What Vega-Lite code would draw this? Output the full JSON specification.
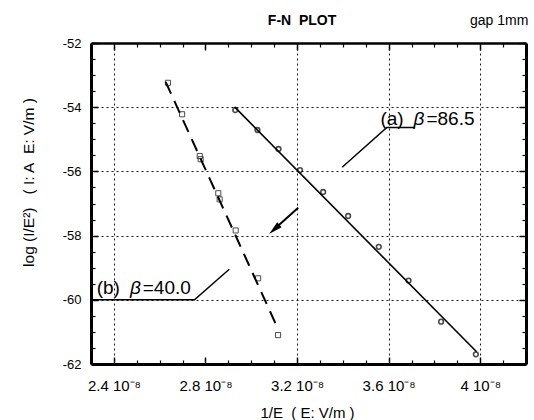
{
  "$schema": "https://vega.github.io/schema/vega-lite/v6.json",
  "width": 435,
  "height": 321,
  "autosize": "none",
  "padding": {"left": 91, "top": 43, "right": 8, "bottom": 56},
  "background": "white",
  "config": {
    "font": "Liberation Sans",
    "view": {"stroke": null},
    "axis": {"labelColor": "black", "titleColor": "black", "tickColor": "black", "domainColor": "black", "labelFont": "Liberation Sans", "titleFont": "Liberation Sans", "titleFontWeight": "normal", "gridColor": "black"}
  },
  "datasets": {
    "lineA": [{"x": 2.927, "y": -53.99}, {"x": 3.984, "y": -61.62}],
    "ptsA": [
      {"x": 2.930, "y": -54.09}, {"x": 3.027, "y": -54.71}, {"x": 3.119, "y": -55.30},
      {"x": 3.213, "y": -55.96}, {"x": 3.314, "y": -56.64}, {"x": 3.423, "y": -57.39},
      {"x": 3.557, "y": -58.35}, {"x": 3.687, "y": -59.40}, {"x": 3.829, "y": -60.68},
      {"x": 3.981, "y": -61.70}
    ],
    "lineB": [{"x": 2.626, "y": -53.21}, {"x": 3.119, "y": -60.94}],
    "ptsB": [
      {"x": 2.636, "y": -53.24}, {"x": 2.698, "y": -54.22}, {"x": 2.775, "y": -55.52},
      {"x": 2.779, "y": -55.62}, {"x": 2.856, "y": -56.68}, {"x": 2.862, "y": -56.87},
      {"x": 2.932, "y": -57.84}, {"x": 3.030, "y": -59.33}, {"x": 3.117, "y": -61.10}
    ],
    "leaders": [
      {"id": "a", "o": 1, "x": 3.713, "y": -54.63}, {"id": "a", "o": 2, "x": 3.592, "y": -54.63}, {"id": "a", "o": 3, "x": 3.397, "y": -55.87},
      {"id": "b", "o": 1, "x": 2.30, "y": -60.0}, {"id": "b", "o": 2, "x": 2.752, "y": -60.0}, {"id": "b", "o": 3, "x": 2.904, "y": -59.05}
    ],
    "arrow": [{"o": 1, "x": 3.205, "y": -57.13}, {"o": 2, "x": 3.11, "y": -57.74}],
    "arrowHead": [{"x": 3.106, "y": -57.77}],
    "tags": [{"t": "(a)", "x": 3.564, "y": -54.54}, {"t": "(b)", "x": 2.325, "y": -59.82}],
    "betas": [{"t": "β", "x": 3.709, "y": -54.54}, {"t": "β", "x": 2.470, "y": -59.82}],
    "vals": [{"t": "=86.5", "x": 3.765, "y": -54.54}, {"t": "=40.0", "x": 2.526, "y": -59.82}],
    "heads": [{"t": "gap 1mm", "x": 4.083, "y": -51.44}],
    "title": [{"t": "F-N\u00a0 PLOT", "x": 3.222, "y": -51.44}]
  },
  "layer": [
    {
      "data": {"name": "lineA"},
      "mark": {"type": "line", "color": "black", "strokeWidth": 1.6},
      "encoding": {
        "x": {"field": "x", "type": "quantitative", "scale": {"domain": [2.3, 4.2], "nice": false, "zero": false},
          "axis": {"orient": "bottom", "values": [2.4, 2.8, 3.2, 3.6, 4.0], "tickSize": -7, "tickWidth": 1.5, "domainWidth": 3, "labelFontSize": 15, "labelPadding": 21,
            "labelExpr": "(datum.value == 4 ? '4' : format(datum.value, '.1f')) + ' 10⁻⁸'",
            "grid": true, "gridDash": [2, 3], "gridWidth": 1, "gridOpacity": {"condition": {"test": "abs(datum.value - 2.8) < 0.01", "value": 0}, "value": 0.9},
            "title": "1/E\u00a0 ( E: V/m )", "titleFontSize": 15, "titleX": 216, "titleY": 41, "titleBaseline": "top", "titleAnchor": null}},
        "y": {"field": "y", "type": "quantitative", "scale": {"domain": [-62, -52], "nice": false, "zero": false},
          "axis": {"orient": "left", "values": [-62, -60, -58, -56, -54, -52], "tickSize": -7, "tickWidth": 1.5, "domainWidth": 3, "labelFontSize": 13, "labelPadding": 17,
            "labelExpr": "'' + datum.value",
            "grid": true, "gridDash": [2, 3], "gridWidth": 1, "gridOpacity": 0.9,
            "title": "log (I/E²)\u00a0\u00a0 ( I: A\u00a0 E: V/m )", "titleFontSize": 15.5, "titleX": -63, "titleY": 139, "titleBaseline": "middle", "titleAlign": "center", "titleAngle": -90}}
      }
    },
    {
      "data": {"name": "ptsA"},
      "mark": {"type": "point", "shape": "circle", "color": "black", "filled": false, "size": 22, "strokeWidth": 1.6},
      "encoding": {
        "x": {"field": "x", "type": "quantitative", "scale": {"domain": [2.3, 4.2], "nice": false, "zero": false},
          "axis": {"orient": "bottom", "values": [2.5, 2.6, 2.7, 2.9, 3.0, 3.1, 3.3, 3.4, 3.5, 3.7, 3.8, 3.9, 4.1], "tickSize": -4, "tickWidth": 1.2, "labels": false, "domain": false, "grid": false, "title": null}},
        "y": {"field": "y", "type": "quantitative", "scale": {"domain": [-62, -52], "nice": false, "zero": false},
          "axis": {"orient": "left", "values": [-61.5, -61, -60.5, -59.5, -59, -58.5, -57.5, -57, -56.5, -55.5, -55, -54.5, -53.5, -53, -52.5], "tickSize": -4, "tickWidth": 1.2, "labels": false, "domain": false, "grid": false, "title": null}}
      }
    },
    {
      "data": {"name": "lineB"},
      "mark": {"type": "line", "color": "black", "strokeWidth": 2, "strokeDash": [13, 8]},
      "encoding": {
        "x": {"field": "x", "type": "quantitative", "scale": {"domain": [2.3, 4.2], "nice": false, "zero": false},
          "axis": {"orient": "top", "values": [2.4, 2.8, 3.2, 3.6, 4.0], "tickSize": -7, "tickWidth": 1.5, "domainWidth": 2.5, "labels": false, "grid": false, "title": null}},
        "y": {"field": "y", "type": "quantitative", "scale": {"domain": [-62, -52], "nice": false, "zero": false},
          "axis": {"orient": "right", "values": [-62, -60, -58, -56, -54, -52], "tickSize": -7, "tickWidth": 1.5, "domainWidth": 3, "labels": false, "grid": false, "title": null}}
      }
    },
    {
      "data": {"name": "ptsB"},
      "mark": {"type": "point", "shape": "square", "color": "black", "filled": false, "size": 26, "strokeWidth": 1},
      "encoding": {
        "x": {"field": "x", "type": "quantitative", "scale": {"domain": [2.3, 4.2], "nice": false, "zero": false},
          "axis": {"orient": "top", "values": [2.5, 2.6, 2.7, 2.9, 3.0, 3.1, 3.3, 3.4, 3.5, 3.7, 3.8, 3.9, 4.1], "tickSize": -4, "tickWidth": 1.2, "labels": false, "domain": false, "grid": false, "title": null}},
        "y": {"field": "y", "type": "quantitative", "scale": {"domain": [-62, -52], "nice": false, "zero": false},
          "axis": {"orient": "right", "values": [-61.5, -61, -60.5, -59.5, -59, -58.5, -57.5, -57, -56.5, -55.5, -55, -54.5, -53.5, -53, -52.5], "tickSize": -4, "tickWidth": 1.2, "labels": false, "domain": false, "grid": false, "title": null}}
      }
    },
    {
      "data": {"name": "leaders"},
      "mark": {"type": "line", "color": "black", "strokeWidth": 1.5},
      "encoding": {
        "x": {"field": "x", "type": "quantitative", "axis": null},
        "y": {"field": "y", "type": "quantitative", "axis": null},
        "detail": {"field": "id"},
        "order": {"field": "o"}
      }
    },
    {
      "data": {"name": "arrow"},
      "mark": {"type": "line", "color": "black", "strokeWidth": 2},
      "encoding": {
        "x": {"field": "x", "type": "quantitative", "axis": null},
        "y": {"field": "y", "type": "quantitative", "axis": null},
        "order": {"field": "o"}
      }
    },
    {
      "data": {"name": "arrowHead"},
      "mark": {"type": "point", "shape": "M0,-1L0.38,0.6L-0.38,0.6Z", "filled": true, "color": "black", "opacity": 1, "size": 300, "angle": 228},
      "encoding": {
        "x": {"field": "x", "type": "quantitative", "axis": null},
        "y": {"field": "y", "type": "quantitative", "axis": null}
      }
    },
    {
      "data": {"name": "tags"},
      "mark": {"type": "text", "align": "left", "baseline": "alphabetic", "fontSize": 19, "color": "black"},
      "encoding": {
        "x": {"field": "x", "type": "quantitative", "axis": null},
        "y": {"field": "y", "type": "quantitative", "axis": null},
        "text": {"field": "t"}
      }
    },
    {
      "data": {"name": "betas"},
      "mark": {"type": "text", "align": "left", "baseline": "alphabetic", "fontSize": 19, "fontStyle": "italic", "color": "black"},
      "encoding": {
        "x": {"field": "x", "type": "quantitative", "axis": null},
        "y": {"field": "y", "type": "quantitative", "axis": null},
        "text": {"field": "t"}
      }
    },
    {
      "data": {"name": "vals"},
      "mark": {"type": "text", "align": "left", "baseline": "alphabetic", "fontSize": 19, "color": "black"},
      "encoding": {
        "x": {"field": "x", "type": "quantitative", "axis": null},
        "y": {"field": "y", "type": "quantitative", "axis": null},
        "text": {"field": "t"}
      }
    },
    {
      "data": {"name": "heads"},
      "mark": {"type": "text", "align": "center", "baseline": "alphabetic", "fontSize": 14, "color": "black"},
      "encoding": {
        "x": {"field": "x", "type": "quantitative", "axis": null},
        "y": {"field": "y", "type": "quantitative", "axis": null},
        "text": {"field": "t"}
      }
    },
    {
      "data": {"name": "title"},
      "mark": {"type": "text", "align": "center", "baseline": "alphabetic", "fontSize": 14, "fontWeight": "bold", "color": "black"},
      "encoding": {
        "x": {"field": "x", "type": "quantitative", "axis": null},
        "y": {"field": "y", "type": "quantitative", "axis": null},
        "text": {"field": "t"}
      }
    }
  ],
  "resolve": {"axis": {"x": "independent", "y": "independent"}}
}
